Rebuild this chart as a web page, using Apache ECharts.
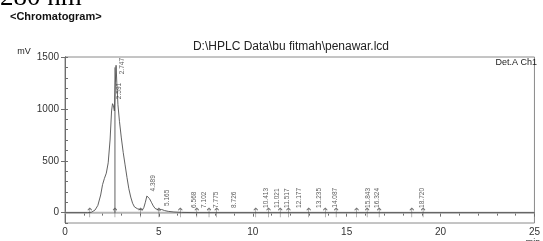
<!DOCTYPE html>
<html><head><meta charset="utf-8">
<script src="https://cdn.jsdelivr.net/npm/echarts@6/dist/echarts.min.js"></script>
<style>html,body{margin:0;padding:0;background:#fff}#c{width:543px;height:241px}</style>
</head><body><div id="c"></div>
<script>
// Chromatogram trace (retention time in min, signal in mV)
const traceTime = [0,1.2,1.4,1.6,1.75,1.9,2.0,2.1,2.2,2.3,2.4,2.48,2.53,2.58,2.63,2.68,2.72,2.76,2.82,2.9,3.0,3.1,3.2,3.3,3.4,3.5,3.6,3.7,3.85,4.0,4.12,4.2,4.28,4.36,4.42,4.5,4.6,4.7,4.8,4.9,5.0,5.15,5.3,5.5,5.8,6.2,7.0,25];
const traceSignal = [0,0,3,25,70,170,270,330,380,480,700,980,1050,1030,980,1250,1420,1250,1040,880,720,580,460,340,230,150,90,55,38,30,25,50,100,160,155,135,100,65,40,25,24,30,20,12,6,2,0,0];
// Peak labels (retention times) and label base heights
const peakTimes = ['2.591','2.747','4.389','5.165','6.568','7.102','7.775','8.726','10.413','11.021','11.517','12.177','13.235','14.087','15.843','16.324','18.720'];
const peakHeights = [1060,1300,170,30,12,12,12,12,12,12,12,12,12,14,12,12,12];
// Peak start/end markers on the baseline
const markerTimes = [1.32,2.66,4.03,5.0,6.14,7.02,7.67,8.08,10.16,10.84,11.46,11.9,12.98,13.86,14.44,15.53,16.09,16.73,18.47,19.07];
const dropLineTime = [2.66,2.66];
const dropLineSignal = [0,1400];
const baselineTime = [0,25];
const baselineSignal = [0,0];
const xTicks = [0,5,10,15,20,25];
const yTicks = [0,500,1000,1500];

const trace = traceTime.map((t,i)=>[t,traceSignal[i]]);
const peaks = peakTimes.map((t,i)=>[parseFloat(t),peakHeights[i],t]);
const markers = markerTimes.map(t=>[t,0]);
const drop = dropLineTime.map((t,i)=>[t,dropLineSignal[i]]);
const base = baselineTime.map((t,i)=>[t,baselineSignal[i]]);

const chart = echarts.init(document.getElementById('c'), null, {renderer:'canvas'});
const axisCol = '#6e6e6e';
chart.setOption({
  animation:false,
  backgroundColor:'#fff',
  textStyle:{fontFamily:'Liberation Sans, Arial, sans-serif'},
  grid:{left:65,right:3,top:57,bottom:18,show:true,borderColor:'#8a8a8a',borderWidth:1},
  xAxis:{type:'value',min:0,max:25,interval:5,
    axisLine:{lineStyle:{color:axisCol,width:1}},
    axisTick:{show:true,length:4,lineStyle:{color:axisCol}},
    minorTick:{show:true,splitNumber:5,length:3,lineStyle:{color:axisCol}},
    axisLabel:{color:'#333',fontSize:10,margin:4,customValues:xTicks,formatter:v=>String(v)},
    splitLine:{show:false}},
  yAxis:[
    {type:'value',min:-100,max:1500,interval:100,position:'left',
     axisLine:{show:true,lineStyle:{color:axisCol}},
     axisTick:{show:true,inside:true,length:3,lineStyle:{color:axisCol}},
     axisLabel:{show:false},splitLine:{show:false}},
    {type:'value',min:-100,max:1500,position:'left',offset:0,
     axisLine:{show:true,lineStyle:{color:axisCol}},
     axisTick:{show:true,length:4,customValues:yTicks,lineStyle:{color:axisCol}},
     axisLabel:{color:'#333',fontSize:10,margin:6,customValues:yTicks,formatter:v=>String(v)},
     splitLine:{show:false}}
  ],
  series:[
    {type:'line',data:base,symbol:'none',silent:true,z:1,lineStyle:{color:'#b4b4b4',width:2}},
    {type:'line',data:trace,symbol:'none',z:3,lineStyle:{color:'#505050',width:0.9}},
    {type:'line',data:drop,symbol:'none',z:3,lineStyle:{color:'#505050',width:0.9}},
    {type:'scatter',data:markers,z:4,symbol:'path://M5,0 L5,18 M2,4 L5,0 L8,4',symbolSize:[4,9],
     itemStyle:{color:'none',borderColor:'#505050',borderWidth:0.8}},
    {type:'scatter',data:peaks,z:5,symbolSize:1,itemStyle:{color:'rgba(0,0,0,0)'},
     label:{show:true,formatter:p=>p.data[2],rotate:90,position:[6,-3],align:'left',verticalAlign:'middle',
       fontSize:6.5,color:'#333'}}
  ],
  graphic:[
    {type:'text',left:0,top:-16,style:{text:'280 nm',font:'27px "Liberation Serif", serif',fill:'#000'}},
    {type:'text',left:10,top:11,style:{text:'<Chromatogram>',font:'bold 11px "Liberation Sans", Arial, sans-serif',fill:'#111'}},
    {type:'text',x:291,y:47,style:{text:'D:\\HPLC Data\\bu fitmah\\penawar.lcd',font:'12px "Liberation Sans", Arial, sans-serif',fill:'#222',align:'center',verticalAlign:'middle'}},
    {type:'text',x:24,y:52,style:{text:'mV',font:'9px "Liberation Sans", Arial, sans-serif',fill:'#222',align:'center',verticalAlign:'middle'}},
    {type:'text',x:537,y:63,style:{text:'Det.A Ch1',font:'9px "Liberation Sans", Arial, sans-serif',fill:'#222',align:'right',verticalAlign:'middle'}},
    {type:'text',x:533,y:238,style:{text:'min',font:'9px "Liberation Sans", Arial, sans-serif',fill:'#222',align:'center',verticalAlign:'top'}}
  ]
});
</script></body></html>
